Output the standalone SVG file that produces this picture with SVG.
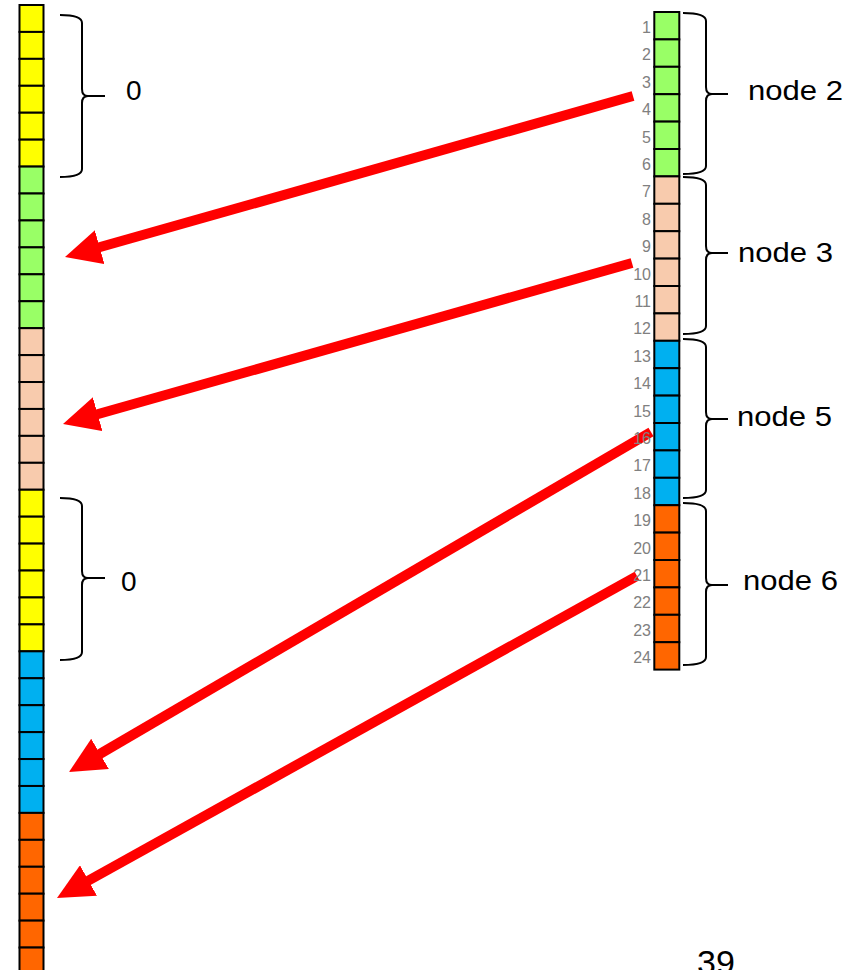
<svg xmlns="http://www.w3.org/2000/svg" width="846" height="970" viewBox="0 0 846 970">
<defs>
<style>
.c{stroke:#000;stroke-width:2}
.y{fill:#FFFF00}.g{fill:#99FF66}.p{fill:#F8CBAD}.b{fill:#00B0F0}.o{fill:#FF6600}
.br{fill:none;stroke:#000;stroke-width:2}
.lbl{font-family:"Liberation Sans",Arial,sans-serif;font-size:28px;fill:#000}
.num{font-family:"Liberation Sans",Arial,sans-serif;font-size:16px;fill:#808080;text-anchor:end}
.ar{fill:none;stroke:#FF0000;stroke-width:10;marker-end:url(#ah)}
</style>
<marker id="ah" markerUnits="userSpaceOnUse" markerWidth="36" markerHeight="35" viewBox="0 0 36 35" refX="4" refY="17.5" orient="auto">
<path d="M0,0 L36,17.5 L0,35 Z" fill="#FF0000"/>
</marker>
</defs>
<rect width="846" height="970" fill="#fff"/>

<g id="left-column">
<g id="left-zero-1" class="y c">
<rect x="19.5" y="5" width="24" height="26.93"/><rect x="19.5" y="31.93" width="24" height="26.93"/><rect x="19.5" y="58.86" width="24" height="26.93"/><rect x="19.5" y="85.79" width="24" height="26.93"/><rect x="19.5" y="112.72" width="24" height="26.93"/><rect x="19.5" y="139.65" width="24" height="26.93"/>
</g>
<g id="left-node2" class="g c">
<rect x="19.5" y="166.58" width="24" height="26.93"/><rect x="19.5" y="193.51" width="24" height="26.93"/><rect x="19.5" y="220.44" width="24" height="26.93"/><rect x="19.5" y="247.37" width="24" height="26.93"/><rect x="19.5" y="274.3" width="24" height="26.93"/><rect x="19.5" y="301.23" width="24" height="26.93"/>
</g>
<g id="left-node3" class="p c">
<rect x="19.5" y="328.16" width="24" height="26.93"/><rect x="19.5" y="355.09" width="24" height="26.93"/><rect x="19.5" y="382.02" width="24" height="26.93"/><rect x="19.5" y="408.95" width="24" height="26.93"/><rect x="19.5" y="435.88" width="24" height="26.93"/><rect x="19.5" y="462.81" width="24" height="26.93"/>
</g>
<g id="left-zero-2" class="y c">
<rect x="19.5" y="489.74" width="24" height="26.93"/><rect x="19.5" y="516.67" width="24" height="26.93"/><rect x="19.5" y="543.6" width="24" height="26.93"/><rect x="19.5" y="570.53" width="24" height="26.93"/><rect x="19.5" y="597.46" width="24" height="26.93"/><rect x="19.5" y="624.39" width="24" height="26.93"/>
</g>
<g id="left-node5" class="b c">
<rect x="19.5" y="651.32" width="24" height="26.93"/><rect x="19.5" y="678.25" width="24" height="26.93"/><rect x="19.5" y="705.18" width="24" height="26.93"/><rect x="19.5" y="732.11" width="24" height="26.93"/><rect x="19.5" y="759.04" width="24" height="26.93"/><rect x="19.5" y="785.97" width="24" height="26.93"/>
</g>
<g id="left-node6" class="o c">
<rect x="19.5" y="812.9" width="24" height="26.93"/><rect x="19.5" y="839.83" width="24" height="26.93"/><rect x="19.5" y="866.76" width="24" height="26.93"/><rect x="19.5" y="893.69" width="24" height="26.93"/><rect x="19.5" y="920.62" width="24" height="26.93"/><rect x="19.5" y="947.55" width="24" height="26.93"/>
</g>
</g>

<g id="left-brace-1">
<path class="br" d="M60,15 Q82,15 82,23 L82,89 Q82,96 88,96 L105,96 M88,96 Q82,96 82,103 L82,169 Q82,177 60,177"/>
<text class="lbl" x="126" y="100">0</text>
</g>
<g id="left-brace-2">
<path class="br" d="M60,498 Q82,498 82,506 L82,571 Q82,578 88,578 L105,578 M88,578 Q82,578 82,585 L82,652 Q82,660 60,660"/>
<text class="lbl" x="121" y="591">0</text>
</g>

<g id="connectors">
<line class="ar" x1="633" y1="96" x2="95.8" y2="248.3"/>
<line class="ar" x1="632" y1="263" x2="93.8" y2="415.3"/>
<line class="ar" x1="651" y1="432" x2="96.6" y2="755.9"/>
<line class="ar" x1="637" y1="576" x2="85" y2="882.5"/>
</g>

<g id="right-node2">
<g class="g c">
<rect x="654.3" y="12" width="25" height="27.4"/><rect x="654.3" y="39.4" width="25" height="27.4"/><rect x="654.3" y="66.8" width="25" height="27.4"/><rect x="654.3" y="94.2" width="25" height="27.4"/><rect x="654.3" y="121.6" width="25" height="27.4"/><rect x="654.3" y="149" width="25" height="27.4"/>
</g>
<text class="num" x="651" y="33">1</text><text class="num" x="651" y="60.4">2</text><text class="num" x="651" y="87.8">3</text><text class="num" x="651" y="115.2">4</text><text class="num" x="651" y="142.6">5</text><text class="num" x="651" y="170">6</text>
<path class="br" d="M683,13 Q706,13 706,21 L706,87 Q706,94 712,94 L728,94 M712,94 Q706,94 706,101 L706,166 Q706,174 683,174"/>
<text class="lbl" x="748" y="100" textLength="95" lengthAdjust="spacingAndGlyphs">node 2</text>
</g>

<g id="right-node3">
<g class="p c">
<rect x="654.3" y="176.4" width="25" height="27.4"/><rect x="654.3" y="203.8" width="25" height="27.4"/><rect x="654.3" y="231.2" width="25" height="27.4"/><rect x="654.3" y="258.6" width="25" height="27.4"/><rect x="654.3" y="286" width="25" height="27.4"/><rect x="654.3" y="313.4" width="25" height="27.4"/>
</g>
<text class="num" x="651" y="197.4">7</text><text class="num" x="651" y="224.8">8</text><text class="num" x="651" y="252.2">9</text><text class="num" x="651" y="279.6">10</text><text class="num" x="651" y="307">11</text><text class="num" x="651" y="334.4">12</text>
<path class="br" d="M683,177 Q706,177 706,185 L706,246 Q706,253 712,253 L728,253 M712,253 Q706,253 706,260 L706,326 Q706,334 683,334"/>
<text class="lbl" x="738" y="262" textLength="95" lengthAdjust="spacingAndGlyphs">node 3</text>
</g>

<g id="right-node5">
<g class="b c">
<rect x="654.3" y="340.8" width="25" height="27.4"/><rect x="654.3" y="368.2" width="25" height="27.4"/><rect x="654.3" y="395.6" width="25" height="27.4"/><rect x="654.3" y="423" width="25" height="27.4"/><rect x="654.3" y="450.4" width="25" height="27.4"/><rect x="654.3" y="477.8" width="25" height="27.4"/>
</g>
<text class="num" x="651" y="361.8">13</text><text class="num" x="651" y="389.2">14</text><text class="num" x="651" y="416.6">15</text><text class="num" x="651" y="444">16</text><text class="num" x="651" y="471.4">17</text><text class="num" x="651" y="498.8">18</text>
<path class="br" d="M683,339 Q706,339 706,347 L706,412 Q706,419 712,419 L728,419 M712,419 Q706,419 706,426 L706,490 Q706,498 683,498"/>
<text class="lbl" x="737" y="426" textLength="95" lengthAdjust="spacingAndGlyphs">node 5</text>
</g>

<g id="right-node6">
<g class="o c">
<rect x="654.3" y="505.2" width="25" height="27.4"/><rect x="654.3" y="532.6" width="25" height="27.4"/><rect x="654.3" y="560" width="25" height="27.4"/><rect x="654.3" y="587.4" width="25" height="27.4"/><rect x="654.3" y="614.8" width="25" height="27.4"/><rect x="654.3" y="642.2" width="25" height="27.4"/>
</g>
<text class="num" x="651" y="526.2">19</text><text class="num" x="651" y="553.6">20</text><text class="num" x="651" y="581">21</text><text class="num" x="651" y="608.4">22</text><text class="num" x="651" y="635.8">23</text><text class="num" x="651" y="663.2">24</text>
<path class="br" d="M683,503 Q706,503 706,511 L706,578 Q706,585 712,585 L728,585 M712,585 Q706,585 706,592 L706,657 Q706,665 683,665"/>
<text class="lbl" x="743" y="590" textLength="95" lengthAdjust="spacingAndGlyphs">node 6</text>
</g>

<text id="page-number" class="lbl" x="697" y="974" style="font-size:34px">39</text>
</svg>
